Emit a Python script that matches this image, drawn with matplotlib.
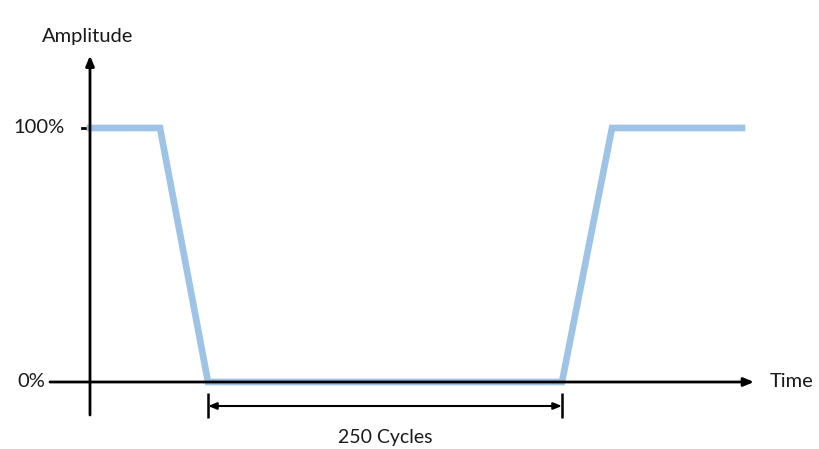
import matplotlib
matplotlib.use("Agg")
import matplotlib.pyplot as plt

# Data (time in arbitrary units, amplitude in %)
time = [0, 70, 118, 472, 522, 652]
amplitude = [100, 100, 0, 0, 100, 100]
tick_values = [0, 100]
tick_labels = ["0%", "100%"]
cycles_label = "250 Cycles"
cycle_start, cycle_end = 118, 472

plt.rcParams['font.family'] = ['Lato', 'DejaVu Sans']

fig = plt.figure(figsize=(8.19, 4.49), dpi=100)
ax = fig.add_axes([0, 0, 1, 1])
ax.set_xlim(-90, 729)
ax.set_ylim(-26.38, 150.39)
ax.axis('off')

FS = 14.5
TC = '#1a1a1a'

# signal
ax.plot(time, amplitude, color='#9dc3e6', lw=4.8, solid_joinstyle='miter', zorder=3)

# axes with arrows
ax.annotate('', xy=(0, 128.5), xytext=(0, -13),
            arrowprops=dict(arrowstyle='-|>,head_length=0.6,head_width=0.25', color='black', lw=2, shrinkA=0, shrinkB=0))
ax.annotate('', xy=(664, 0), xytext=(-40, 0),
            arrowprops=dict(arrowstyle='-|>,head_length=0.6,head_width=0.25', color='black', lw=2, shrinkA=0, shrinkB=0))

# tick at 100%
ax.plot([-8, 10], [100, 100], color='black', lw=2, zorder=2)

for v, lab in zip(tick_values, tick_labels):
    x = -45 if v == 0 else -25
    ax.text(x, v, lab, ha='right', va='center', fontsize=FS, color=TC)

ax.text(-2, 136, "Amplitude", ha='center', va='center', fontsize=FS, color=TC)
ax.text(680, 0, "Time", ha='left', va='center', fontsize=FS, color=TC)

# dimension line
ax.annotate('', xy=(cycle_start, -9.45), xytext=(cycle_end, -9.45),
            arrowprops=dict(arrowstyle='<|-|>,head_length=0.5,head_width=0.2', color='black', lw=1.5, shrinkA=0, shrinkB=0))
ax.vlines([cycle_start, cycle_end], -14.2, -4.3, color='black', lw=1.8)
ax.text((cycle_start + cycle_end) / 2, -21.9, cycles_label, ha='center', va='center', fontsize=FS - 0.5, color=TC)

fig.savefig('out.png', dpi=100, facecolor='white')
